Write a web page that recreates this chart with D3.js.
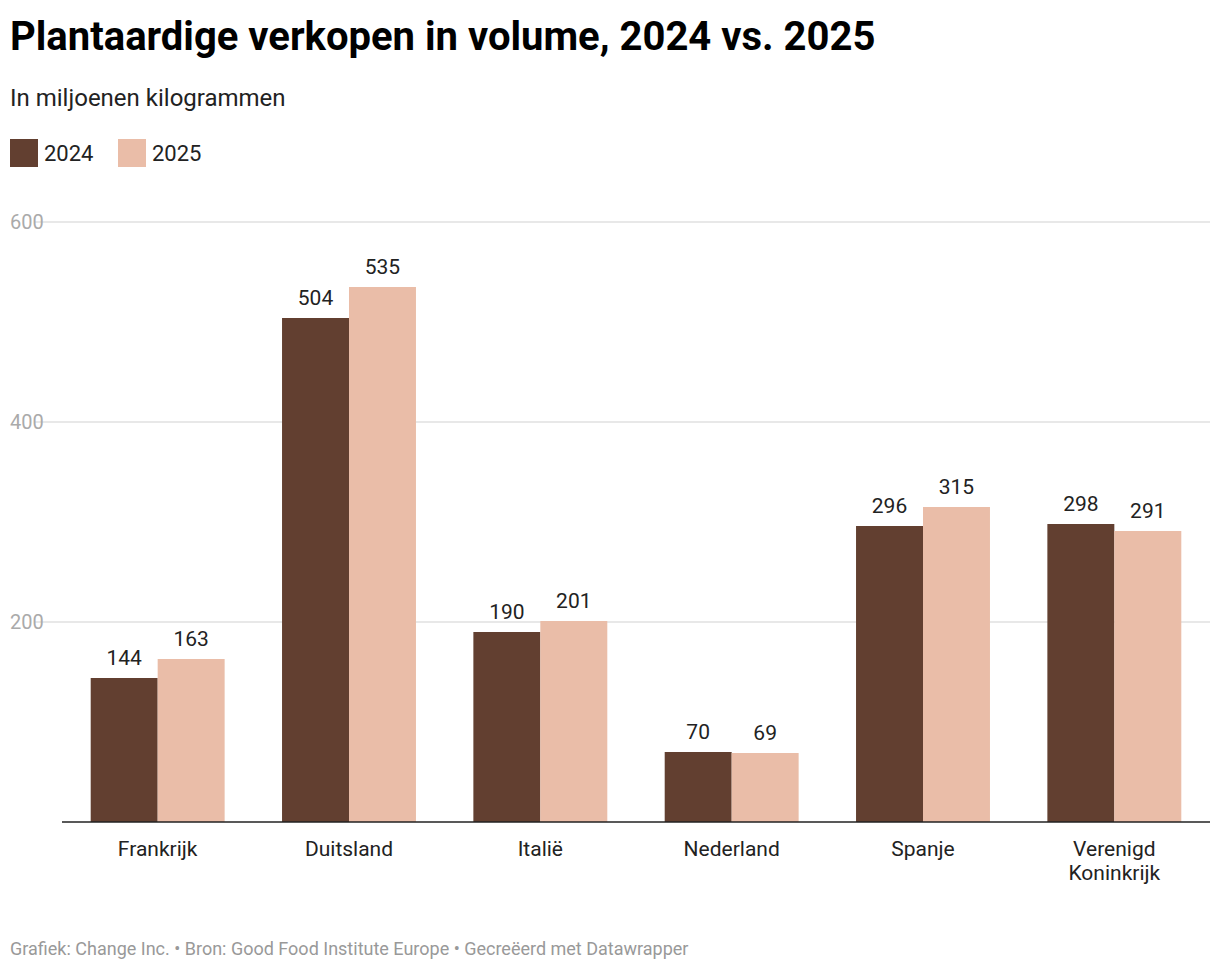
<!DOCTYPE html>
<html><head><meta charset="utf-8">
<script src="https://cdn.jsdelivr.net/npm/d3@7"></script>
<style>body{margin:0;background:#fff;font-family:Roboto,sans-serif}</style>
</head><body><svg id="c" width="1220" height="972"></svg>
<script>
const categories = ["Frankrijk","Duitsland","Italië","Nederland","Spanje","Verenigd\nKoninkrijk"];
const values2024 = [144,504,190,70,296,298];
const values2025 = [163,535,201,69,315,291];
const series = ["2024","2025"];
const colors = ["#623f30","#eabda8"];
const yTicks = [200,400,600];

const svg = d3.select('#c');
const plotLeft = 62, plotRight = 1210, plotTop = 222, plotBottom = 822;

svg.append('text').attr('x',10).attr('y',50).attr('font-size',40).attr('font-weight',700)
  .attr('fill','#000').text('Plantaardige verkopen in volume, 2024 vs. 2025');
svg.append('text').attr('x',10).attr('y',106).attr('font-size',24).attr('fill','#222')
  .text('In miljoenen kilogrammen');

series.forEach((s,i)=>{
  const lx = 10 + i*108;
  svg.append('rect').attr('x',lx).attr('y',139).attr('width',28).attr('height',28).attr('fill',colors[i]);
  svg.append('text').attr('x',lx+34).attr('y',161).attr('font-size',22).attr('fill','#222').text(s);
});

const y = d3.scaleLinear().domain([0,600]).range([plotBottom,plotTop]);
const x0 = d3.scaleBand().domain(categories).range([plotLeft,plotRight]).paddingInner(0.3).paddingOuter(0.15);
const x1 = d3.scaleBand().domain(series).range([0,x0.bandwidth()]);

const grid = svg.append('g');
yTicks.forEach(t=>{
  grid.append('line').attr('x1',35).attr('x2',plotRight).attr('y1',y(t)).attr('y2',y(t))
    .attr('stroke','#e0e0e0').attr('stroke-width',1.5);
  grid.append('text').attr('x',10).attr('y',y(t)+7).attr('font-size',20).attr('fill','#aaa').text(t);
});

const data = categories.map((c,i)=>({c, v:[values2024[i],values2025[i]]}));
const g = svg.append('g').selectAll('g').data(data).join('g')
  .attr('transform',d=>`translate(${x0(d.c)},0)`);
g.selectAll('rect').data(d=>d.v.map((v,i)=>({v,s:series[i],i}))).join('rect')
  .attr('x',d=>x1(d.s)).attr('width',x1.bandwidth())
  .attr('y',d=>y(d.v)).attr('height',d=>plotBottom-y(d.v)).attr('fill',d=>colors[d.i]);
g.selectAll('text.v').data(d=>d.v.map((v,i)=>({v,s:series[i]}))).join('text')
  .attr('class','v').attr('x',d=>x1(d.s)+x1.bandwidth()/2).attr('y',d=>y(d.v)-13)
  .attr('text-anchor','middle').attr('font-size',21).attr('fill','#222').text(d=>d.v);

svg.append('line').attr('x1',plotLeft).attr('x2',plotRight).attr('y1',plotBottom).attr('y2',plotBottom)
  .attr('stroke','#222').attr('stroke-width',1.5);

categories.forEach(c=>{
  const cx = x0(c)+x0.bandwidth()/2;
  const t = svg.append('text').attr('x',cx).attr('y',856)
    .attr('text-anchor','middle').attr('font-size',21).attr('fill','#222');
  c.split('\n').forEach((line,i)=>t.append('tspan').attr('x',cx).attr('dy',i?24:0).text(line));
});

svg.append('text').attr('x',10).attr('y',955).attr('font-size',18).attr('fill','#999')
  .text('Grafiek: Change Inc. • Bron: Good Food Institute Europe • Gecreëerd met Datawrapper');
</script></body></html>
